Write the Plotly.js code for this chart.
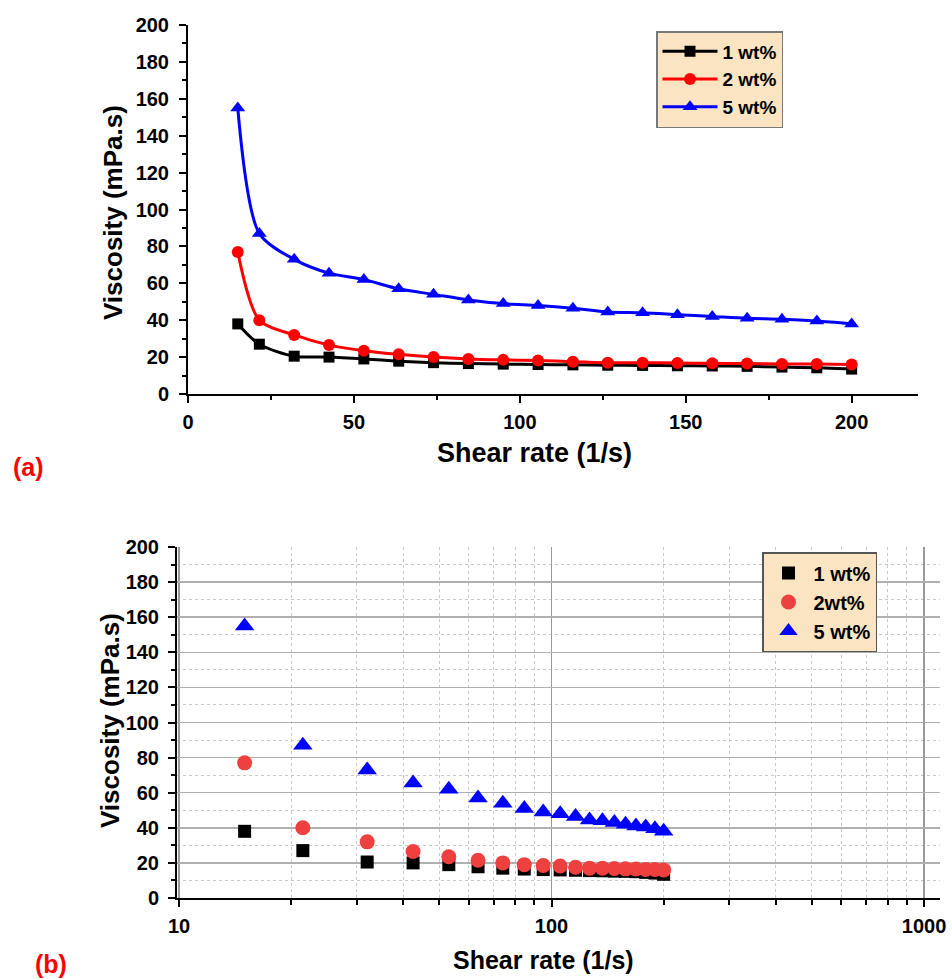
<!DOCTYPE html>
<html>
<head>
<meta charset="utf-8">
<script src="https://cdn.plot.ly/plotly-3.0.1.min.js"></script>
<style>html,body{margin:0;padding:0;background:#fff;}#chart{width:952px;height:979px;}</style>
</head>
<body>
<div id="chart"></div>
<script>
// ---- data ----
const shearRate = [15, 21.5, 32, 42.5, 53, 63.5, 74, 84.5, 95, 105.5, 116, 126.5, 137, 147.5, 158, 168.5, 179, 189.5, 200];
const visc1 = [38, 27, 20.5, 20, 19, 17.8, 17, 16.5, 16.2, 16, 15.8, 15.6, 15.5, 15.3, 15.2, 15, 14.6, 14.2, 13.5];
const visc2 = [77, 40, 32, 26.5, 23.5, 21.5, 20, 19, 18.5, 18.2, 17.5, 17, 17, 16.8, 16.6, 16.5, 16.3, 16.2, 16];
const visc5 = [155, 87, 73, 65.5, 62, 57, 54, 51, 49, 48, 46.5, 44.5, 44, 43, 42, 41, 40.5, 39.5, 38];
const names = ['1 wt%', '2 wt%', '5 wt%'];
const namesB = ['1 wt%', '2wt%', '5 wt%'];
const logTickVals = [10, 100, 1000];
const logTickText = ['10', '100', '1000'];
const logMinorVals = [20, 30, 40, 50, 60, 70, 80, 90, 200, 300, 400, 500, 600, 700, 800, 900];

const W = 952, H = 979;
const px = v => v / W;
const py = v => 1 - v / H;
const FONT = 'Liberation Sans, Arial, sans-serif';

const traces = [
  {x: shearRate, y: visc1, name: names[0], mode: 'lines+markers', line: {color: '#000000', width: 3, shape: 'spline', smoothing: 0.8},
   marker: {symbol: 'square', size: 11, color: '#000000'}, xaxis: 'x', yaxis: 'y', legend: 'legend'},
  {x: shearRate, y: visc2, name: names[1], mode: 'lines+markers', line: {color: '#ff0000', width: 3, shape: 'spline', smoothing: 0.8},
   marker: {symbol: 'circle', size: 12, color: '#ff0000'}, xaxis: 'x', yaxis: 'y', legend: 'legend'},
  {x: shearRate, y: visc5, name: names[2], mode: 'lines+markers', line: {color: '#0000ff', width: 3, shape: 'spline', smoothing: 0.8},
   marker: {symbol: 'triangle-up', size: 13, color: '#0000ff'}, xaxis: 'x', yaxis: 'y', legend: 'legend'},
  {x: shearRate, y: visc1, name: namesB[0], mode: 'markers',
   marker: {symbol: 'square', size: 13, color: '#000000'}, xaxis: 'x2', yaxis: 'y2', legend: 'legend2'},
  {x: shearRate, y: visc2, name: namesB[1], mode: 'markers',
   marker: {symbol: 'circle', size: 15, color: '#ef4040'}, xaxis: 'x2', yaxis: 'y2', legend: 'legend2'},
  {x: shearRate, y: visc5, name: namesB[2], mode: 'markers',
   marker: {symbol: 'triangle-up', size: 17, color: '#0000ff'}, xaxis: 'x2', yaxis: 'y2', legend: 'legend2'}
];

const tickFont = {family: FONT, size: 20, color: '#000', weight: 'bold'};

const layout = {
  width: W, height: H,
  margin: {l: 0, r: 0, t: 0, b: 0},
  paper_bgcolor: '#fff', plot_bgcolor: '#fff',
  showlegend: true,
  xaxis: {
    domain: [px(188), px(918)], range: [0, 220], anchor: 'y',
    dtick: 50, tick0: 0, ticks: 'outside', ticklen: 7, tickwidth: 2, tickcolor: '#000',
    showline: true, linewidth: 2, linecolor: '#000', showgrid: false, zeroline: false,
    tickfont: tickFont, ticklabelstandoff: 2,
    minor: {dtick: 25, ticks: 'outside', ticklen: 4, tickwidth: 2, tickcolor: '#000', showgrid: false}
  },
  yaxis: {
    domain: [py(394), py(25)], range: [0, 200], anchor: 'x',
    dtick: 20, tick0: 0, ticks: 'outside', ticklen: 7, tickwidth: 2, tickcolor: '#000',
    showline: true, linewidth: 2, linecolor: '#000', showgrid: false, zeroline: false,
    tickfont: tickFont, ticklabelstandoff: 6,
    minor: {dtick: 10, ticks: 'outside', ticklen: 4, tickwidth: 2, tickcolor: '#000', showgrid: false}
  },
  xaxis2: {
    type: 'log', domain: [px(177), px(940)], range: [0.9946, 3.0429], anchor: 'y2',
    tickmode: 'array', tickvals: logTickVals, ticktext: logTickText,
    ticks: 'outside', ticklen: 7, tickwidth: 2, tickcolor: '#000',
    showline: true, linewidth: 2, linecolor: '#000', showgrid: true, gridcolor: '#9a9a9a', gridwidth: 1.5, zeroline: false,
    tickfont: tickFont, ticklabelstandoff: 2,
    minor: {tickmode: 'array', tickvals: logMinorVals, ticks: 'outside', ticklen: 5, tickwidth: 2, tickcolor: '#000',
            showgrid: true, gridcolor: '#c8c8c8', griddash: 'dot', gridwidth: 1}
  },
  yaxis2: {
    domain: [py(898), py(547)], range: [0, 200], anchor: 'x2',
    dtick: 20, tick0: 0, ticks: 'outside', ticklen: 7, tickwidth: 2, tickcolor: '#000',
    showline: true, linewidth: 2, linecolor: '#000', showgrid: true, gridcolor: '#b0b0b0', gridwidth: 1.5, zeroline: false,
    tickfont: tickFont, ticklabelstandoff: 5,
    minor: {dtick: 10, ticks: 'outside', ticklen: 4, tickwidth: 2, tickcolor: '#000',
            showgrid: true, gridcolor: '#c8c8c8', griddash: 'dot', gridwidth: 1}
  },
  legend: {
    x: px(656), y: py(31), xanchor: 'left', yanchor: 'top',
    bgcolor: '#fbe4c2', bordercolor: '#777', borderwidth: 1.5,
    font: {family: FONT, size: 19, color: '#000', weight: 'bold'},
    itemwidth: 55, tracegroupgap: 0
  },
  legend2: {
    x: px(762), y: py(552), xanchor: 'left', yanchor: 'top',
    bgcolor: '#fbe4c2', bordercolor: '#555', borderwidth: 1.5,
    font: {family: FONT, size: 20, color: '#000', weight: 'bold'},
    itemwidth: 40, tracegroupgap: 0
  },
  annotations: [
    {text: 'Viscosity (mPa.s)', x: px(113), y: py(213), xref: 'paper', yref: 'paper', textangle: -90,
     showarrow: false, font: {family: FONT, size: 26, color: '#000', weight: 'bold'}, xanchor: 'center', yanchor: 'middle'},
    {text: 'Shear rate (1/s)', x: px(534), y: py(453), xref: 'paper', yref: 'paper',
     showarrow: false, font: {family: FONT, size: 27, color: '#000', weight: 'bold'}, xanchor: 'center', yanchor: 'middle'},
    {text: '(a)', x: px(28), y: py(467), xref: 'paper', yref: 'paper',
     showarrow: false, font: {family: FONT, size: 25, color: '#ff0000', weight: 'bold'}, xanchor: 'center', yanchor: 'middle'},
    {text: 'Viscosity (mPa.s)', x: px(110), y: py(721), xref: 'paper', yref: 'paper', textangle: -90,
     showarrow: false, font: {family: FONT, size: 26, color: '#000', weight: 'bold'}, xanchor: 'center', yanchor: 'middle'},
    {text: 'Shear rate (1/s)', x: px(543), y: py(960), xref: 'paper', yref: 'paper',
     showarrow: false, font: {family: FONT, size: 25, color: '#000', weight: 'bold'}, xanchor: 'center', yanchor: 'middle'},
    {text: '(b)', x: px(51), y: py(964), xref: 'paper', yref: 'paper',
     showarrow: false, font: {family: FONT, size: 25, color: '#ff0000', weight: 'bold'}, xanchor: 'center', yanchor: 'middle'}
  ]
};

Plotly.newPlot('chart', traces, layout, {displayModeBar: false, staticPlot: true});
</script>
</body>
</html>
